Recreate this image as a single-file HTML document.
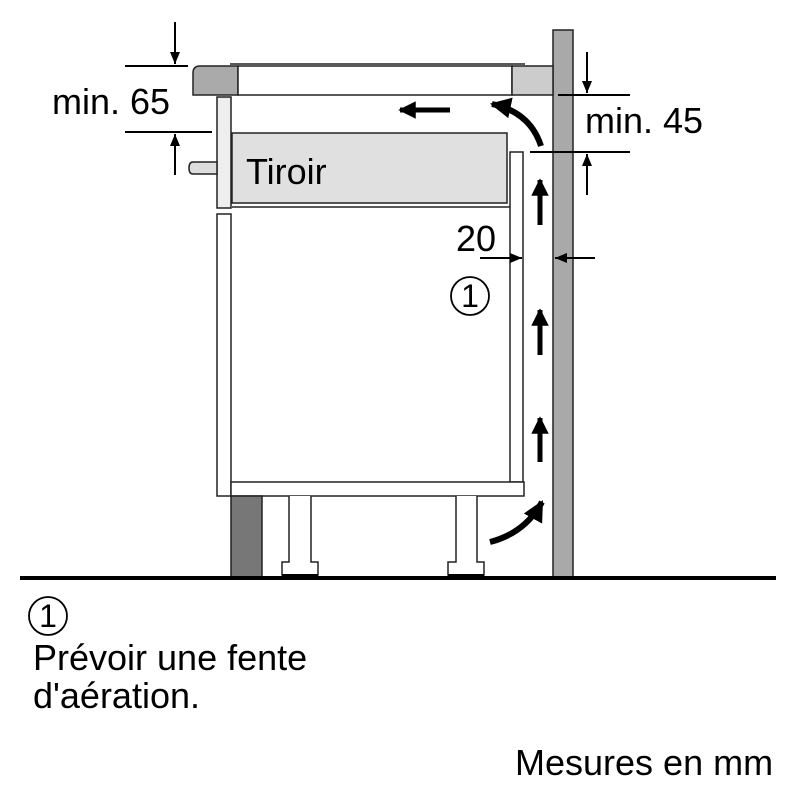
<!DOCTYPE html>
<html><head><meta charset="utf-8"><style>body{margin:0;background:#fff}svg{display:block}</style></head>
<body>
<svg width="800" height="800" viewBox="0 0 800 800" xmlns="http://www.w3.org/2000/svg" font-family="Liberation Sans, sans-serif">
<defs>
<marker id="ah" viewBox="0 0 10 10" refX="9" refY="5" markerWidth="3.5" markerHeight="3.5" orient="auto"><path d="M0,0 L10,5 L0,10 z" fill="#000"/></marker>
<marker id="ad" viewBox="0 0 12 10" refX="12" refY="5" markerWidth="12" markerHeight="10" orient="auto" markerUnits="userSpaceOnUse"><path d="M0,0 L12,5 L0,10 z" fill="#000"/></marker>
</defs>
<g stroke="#222" stroke-width="1.5">
<rect x="553" y="30" width="20" height="548" fill="#a9a9a9"/>
<path d="M200,66 L238,66 L238,95 L193,95 L193,73 Q193,66 200,66 z" fill="#aaa"/>
<rect x="238" y="66" width="274" height="29" fill="#fff"/>
<line x1="230" y1="64" x2="525" y2="64"/>
<rect x="512" y="66" width="41" height="29" fill="#ccc"/>
<rect x="217" y="97" width="14" height="111" fill="#eee"/>
<path d="M217,162 L193,162 Q189,162 189,168 Q189,174 193,174 L217,174 z" fill="#ddd"/>
<rect x="232" y="133" width="275" height="70" fill="#e0e0e0"/>
<line x1="232" y1="207" x2="510" y2="207"/>
<rect x="217" y="214" width="14" height="282" fill="#fff"/>
<rect x="510" y="152" width="13" height="330" fill="#fff"/>
<rect x="231" y="482" width="293" height="14" fill="#fff"/>
<rect x="231" y="496" width="31" height="81" fill="#777"/>
<path d="M289,496 V562 H282 V575 H318 V562 H311 V496" fill="#fff"/>
<path d="M456,496 V562 H448 V575 H484 V562 H477 V496" fill="#fff"/>
</g>
<rect x="282" y="574" width="36" height="3" fill="#000"/>
<rect x="448" y="574" width="36" height="3" fill="#000"/>
<rect x="20" y="576" width="756" height="4" fill="#000"/>
<g stroke="#000" stroke-width="2" fill="none">
<line x1="125" y1="66" x2="188" y2="66"/>
<line x1="125" y1="132" x2="212" y2="132"/>
<line x1="175" y1="22" x2="175" y2="64" marker-end="url(#ad)"/>
<line x1="175" y1="175" x2="175" y2="134" marker-end="url(#ad)"/>
<line x1="558" y1="95" x2="630" y2="95"/>
<line x1="530" y1="152" x2="630" y2="152"/>
<line x1="587" y1="52" x2="587" y2="93" marker-end="url(#ad)"/>
<line x1="587" y1="195" x2="587" y2="154" marker-end="url(#ad)"/>
<line x1="480" y1="258" x2="522" y2="258" marker-end="url(#ad)"/>
<line x1="595" y1="258" x2="555" y2="258" marker-end="url(#ad)"/>
</g>
<g stroke="#000" stroke-width="5" fill="none">
<line x1="450" y1="110" x2="400" y2="110" marker-end="url(#ah)"/>
<line x1="540" y1="225" x2="540" y2="180" marker-end="url(#ah)"/>
<line x1="540" y1="355" x2="540" y2="310" marker-end="url(#ah)"/>
<line x1="540" y1="462" x2="540" y2="418" marker-end="url(#ah)"/>
<path d="M541,146 Q530,112 492,104" stroke-width="6" marker-end="url(#ah)"/>
<path d="M490,542 Q525,533 542,502" stroke-width="6" marker-end="url(#ah)"/>
</g>
<g font-size="36" fill="#000">
<text x="52" y="114">min. 65</text>
<text x="585" y="133">min. 45</text>
<text x="246" y="184">Tiroir</text>
<text x="456" y="251">20</text>
<text x="33" y="670">Prévoir une fente</text>
<text x="33" y="708">d'aération.</text>
<text x="515" y="775">Mesures en mm</text>
</g>
<g fill="none" stroke="#000" stroke-width="1.8">
<circle cx="470" cy="296" r="19"/>
<circle cx="48" cy="616" r="19"/>
</g>
<g font-size="32" fill="#000" text-anchor="middle">
<text x="470" y="307">1</text>
<text x="48" y="627">1</text>
</g>
</svg>
</body></html>
